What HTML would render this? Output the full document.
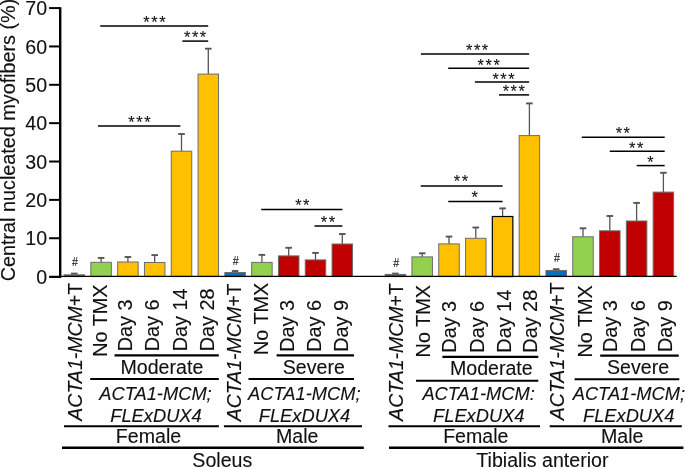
<!DOCTYPE html>
<html><head><meta charset="utf-8"><title>Central nucleated myofibers</title>
<style>
html,body{margin:0;padding:0;background:#fff;}
body{width:685px;height:468px;overflow:hidden;}
svg{display:block;will-change:transform;}
svg text{font-family:"Liberation Sans",sans-serif;fill:#111;stroke:#111;stroke-width:0.12px;}
</style></head>
<body>
<svg width="685" height="468" viewBox="0 0 685 468">
<rect x="0" y="0" width="685" height="468" fill="#ffffff"/>
<line x1="74.30" y1="274.80" x2="74.30" y2="273.60" stroke="#555555" stroke-width="1.3"/>
<line x1="71.00" y1="273.60" x2="77.60" y2="273.60" stroke="#555555" stroke-width="1.9"/>
<rect x="64.05" y="274.80" width="20.50" height="1.80" fill="#6e6e6e" stroke="#6c6c6c" stroke-width="1.0"/>
<line x1="101.10" y1="262.30" x2="101.10" y2="257.90" stroke="#555555" stroke-width="1.3"/>
<line x1="97.80" y1="257.90" x2="104.40" y2="257.90" stroke="#555555" stroke-width="1.9"/>
<rect x="90.85" y="262.30" width="20.50" height="14.30" fill="#92D050" stroke="#6c6c6c" stroke-width="1.0"/>
<line x1="127.90" y1="262.00" x2="127.90" y2="257.00" stroke="#555555" stroke-width="1.3"/>
<line x1="124.60" y1="257.00" x2="131.20" y2="257.00" stroke="#555555" stroke-width="1.9"/>
<rect x="117.65" y="262.00" width="20.50" height="14.60" fill="#FFC000" stroke="#6c6c6c" stroke-width="1.0"/>
<line x1="154.70" y1="262.50" x2="154.70" y2="255.10" stroke="#555555" stroke-width="1.3"/>
<line x1="151.40" y1="255.10" x2="158.00" y2="255.10" stroke="#555555" stroke-width="1.9"/>
<rect x="144.45" y="262.50" width="20.50" height="14.10" fill="#FFC000" stroke="#6c6c6c" stroke-width="1.0"/>
<line x1="181.50" y1="151.20" x2="181.50" y2="134.00" stroke="#555555" stroke-width="1.3"/>
<line x1="178.20" y1="134.00" x2="184.80" y2="134.00" stroke="#555555" stroke-width="1.9"/>
<rect x="171.25" y="151.20" width="20.50" height="125.40" fill="#FFC000" stroke="#6c6c6c" stroke-width="1.0"/>
<line x1="208.30" y1="74.10" x2="208.30" y2="48.70" stroke="#555555" stroke-width="1.3"/>
<line x1="205.00" y1="48.70" x2="211.60" y2="48.70" stroke="#555555" stroke-width="1.9"/>
<rect x="198.05" y="74.10" width="20.50" height="202.50" fill="#FFC000" stroke="#6c6c6c" stroke-width="1.0"/>
<line x1="235.10" y1="272.50" x2="235.10" y2="271.00" stroke="#555555" stroke-width="1.3"/>
<line x1="231.80" y1="271.00" x2="238.40" y2="271.00" stroke="#555555" stroke-width="1.9"/>
<rect x="224.85" y="272.50" width="20.50" height="4.10" fill="#0070C0" stroke="#6c6c6c" stroke-width="1.0"/>
<line x1="261.90" y1="262.40" x2="261.90" y2="254.90" stroke="#555555" stroke-width="1.3"/>
<line x1="258.60" y1="254.90" x2="265.20" y2="254.90" stroke="#555555" stroke-width="1.9"/>
<rect x="251.65" y="262.40" width="20.50" height="14.20" fill="#92D050" stroke="#6c6c6c" stroke-width="1.0"/>
<line x1="288.70" y1="255.90" x2="288.70" y2="247.80" stroke="#555555" stroke-width="1.3"/>
<line x1="285.40" y1="247.80" x2="292.00" y2="247.80" stroke="#555555" stroke-width="1.9"/>
<rect x="278.45" y="255.90" width="20.50" height="20.70" fill="#C00000" stroke="#6c6c6c" stroke-width="1.0"/>
<line x1="315.50" y1="259.90" x2="315.50" y2="252.90" stroke="#555555" stroke-width="1.3"/>
<line x1="312.20" y1="252.90" x2="318.80" y2="252.90" stroke="#555555" stroke-width="1.9"/>
<rect x="305.25" y="259.90" width="20.50" height="16.70" fill="#C00000" stroke="#6c6c6c" stroke-width="1.0"/>
<line x1="342.30" y1="244.00" x2="342.30" y2="234.00" stroke="#555555" stroke-width="1.3"/>
<line x1="339.00" y1="234.00" x2="345.60" y2="234.00" stroke="#555555" stroke-width="1.9"/>
<rect x="332.05" y="244.00" width="20.50" height="32.60" fill="#C00000" stroke="#6c6c6c" stroke-width="1.0"/>
<line x1="395.40" y1="274.40" x2="395.40" y2="273.60" stroke="#555555" stroke-width="1.3"/>
<line x1="392.10" y1="273.60" x2="398.70" y2="273.60" stroke="#555555" stroke-width="1.9"/>
<rect x="385.15" y="274.40" width="20.50" height="2.20" fill="#0070C0" stroke="#6c6c6c" stroke-width="1.0"/>
<line x1="422.20" y1="256.90" x2="422.20" y2="253.30" stroke="#555555" stroke-width="1.3"/>
<line x1="418.90" y1="253.30" x2="425.50" y2="253.30" stroke="#555555" stroke-width="1.9"/>
<rect x="411.95" y="256.90" width="20.50" height="19.70" fill="#92D050" stroke="#6c6c6c" stroke-width="1.0"/>
<line x1="449.00" y1="243.90" x2="449.00" y2="236.60" stroke="#555555" stroke-width="1.3"/>
<line x1="445.70" y1="236.60" x2="452.30" y2="236.60" stroke="#555555" stroke-width="1.9"/>
<rect x="438.75" y="243.90" width="20.50" height="32.70" fill="#FFC000" stroke="#6c6c6c" stroke-width="1.0"/>
<line x1="475.80" y1="238.30" x2="475.80" y2="227.50" stroke="#555555" stroke-width="1.3"/>
<line x1="472.50" y1="227.50" x2="479.10" y2="227.50" stroke="#555555" stroke-width="1.9"/>
<rect x="465.55" y="238.30" width="20.50" height="38.30" fill="#FFC000" stroke="#6c6c6c" stroke-width="1.0"/>
<line x1="502.60" y1="216.50" x2="502.60" y2="208.40" stroke="#555555" stroke-width="1.3"/>
<line x1="499.30" y1="208.40" x2="505.90" y2="208.40" stroke="#555555" stroke-width="1.9"/>
<rect x="492.35" y="216.50" width="20.50" height="60.10" fill="#FFC000" stroke="#000" stroke-width="1.2"/>
<line x1="529.40" y1="135.60" x2="529.40" y2="103.40" stroke="#555555" stroke-width="1.3"/>
<line x1="526.10" y1="103.40" x2="532.70" y2="103.40" stroke="#555555" stroke-width="1.9"/>
<rect x="519.15" y="135.60" width="20.50" height="141.00" fill="#FFC000" stroke="#6c6c6c" stroke-width="1.0"/>
<line x1="556.20" y1="270.50" x2="556.20" y2="269.20" stroke="#555555" stroke-width="1.3"/>
<line x1="552.90" y1="269.20" x2="559.50" y2="269.20" stroke="#555555" stroke-width="1.9"/>
<rect x="545.95" y="270.50" width="20.50" height="6.10" fill="#0070C0" stroke="#6c6c6c" stroke-width="1.0"/>
<line x1="583.00" y1="236.80" x2="583.00" y2="228.30" stroke="#555555" stroke-width="1.3"/>
<line x1="579.70" y1="228.30" x2="586.30" y2="228.30" stroke="#555555" stroke-width="1.9"/>
<rect x="572.75" y="236.80" width="20.50" height="39.80" fill="#92D050" stroke="#6c6c6c" stroke-width="1.0"/>
<line x1="609.80" y1="230.80" x2="609.80" y2="216.00" stroke="#555555" stroke-width="1.3"/>
<line x1="606.50" y1="216.00" x2="613.10" y2="216.00" stroke="#555555" stroke-width="1.9"/>
<rect x="599.55" y="230.80" width="20.50" height="45.80" fill="#C00000" stroke="#6c6c6c" stroke-width="1.0"/>
<line x1="636.60" y1="221.00" x2="636.60" y2="202.90" stroke="#555555" stroke-width="1.3"/>
<line x1="633.30" y1="202.90" x2="639.90" y2="202.90" stroke="#555555" stroke-width="1.9"/>
<rect x="626.35" y="221.00" width="20.50" height="55.60" fill="#C00000" stroke="#6c6c6c" stroke-width="1.0"/>
<line x1="663.40" y1="192.10" x2="663.40" y2="172.80" stroke="#555555" stroke-width="1.3"/>
<line x1="660.10" y1="172.80" x2="666.70" y2="172.80" stroke="#555555" stroke-width="1.9"/>
<rect x="653.15" y="192.10" width="20.50" height="84.50" fill="#C00000" stroke="#6c6c6c" stroke-width="1.0"/>
<line x1="60.20" y1="7.20" x2="60.20" y2="277.95" stroke="#000" stroke-width="2.4"/>
<line x1="60.00" y1="276.40" x2="676.80" y2="276.40" stroke="#000" stroke-width="1.25"/>
<line x1="49.10" y1="276.85" x2="60.20" y2="276.85" stroke="#000" stroke-width="2.2"/>
<line x1="49.10" y1="238.24" x2="60.00" y2="238.24" stroke="#000" stroke-width="2.0"/>
<line x1="49.10" y1="199.88" x2="60.00" y2="199.88" stroke="#000" stroke-width="2.0"/>
<line x1="49.10" y1="161.52" x2="60.00" y2="161.52" stroke="#000" stroke-width="2.0"/>
<line x1="49.10" y1="123.16" x2="60.00" y2="123.16" stroke="#000" stroke-width="2.0"/>
<line x1="49.10" y1="84.80" x2="60.00" y2="84.80" stroke="#000" stroke-width="2.0"/>
<line x1="49.10" y1="46.44" x2="60.00" y2="46.44" stroke="#000" stroke-width="2.0"/>
<line x1="49.10" y1="8.08" x2="60.00" y2="8.08" stroke="#000" stroke-width="2.0"/>
<text x="47.10" y="283.80" font-size="19.6" text-anchor="end">0</text>
<text x="47.10" y="245.44" font-size="19.6" text-anchor="end">10</text>
<text x="47.10" y="207.08" font-size="19.6" text-anchor="end">20</text>
<text x="47.10" y="168.72" font-size="19.6" text-anchor="end">30</text>
<text x="47.10" y="130.36" font-size="19.6" text-anchor="end">40</text>
<text x="47.10" y="92.00" font-size="19.6" text-anchor="end">50</text>
<text x="47.10" y="53.64" font-size="19.6" text-anchor="end">60</text>
<text x="47.10" y="15.28" font-size="19.6" text-anchor="end">70</text>
<text transform="translate(14.90,140.00) rotate(-90)" font-size="19.8" text-anchor="middle">Central nucleated myofibers (%)</text>
<line x1="100.20" y1="25.90" x2="208.20" y2="25.90" stroke="#000" stroke-width="1.5"/>
<text x="155.20" y="28.20" font-size="16.4" text-anchor="middle" stroke-width="0.15" letter-spacing="1.55">***</text>
<line x1="182.40" y1="41.10" x2="208.20" y2="41.10" stroke="#000" stroke-width="1.5"/>
<text x="195.90" y="43.30" font-size="16.4" text-anchor="middle" stroke-width="0.15" letter-spacing="1.55">***</text>
<line x1="98.00" y1="125.90" x2="180.40" y2="125.90" stroke="#000" stroke-width="1.5"/>
<text x="140.20" y="127.60" font-size="16.4" text-anchor="middle" stroke-width="0.15" letter-spacing="1.55">***</text>
<line x1="261.20" y1="209.60" x2="342.40" y2="209.60" stroke="#000" stroke-width="1.5"/>
<text x="303.10" y="211.30" font-size="16.4" text-anchor="middle" stroke-width="0.15" letter-spacing="1.55">**</text>
<line x1="314.50" y1="226.00" x2="342.40" y2="226.00" stroke="#000" stroke-width="1.5"/>
<text x="328.80" y="227.70" font-size="16.4" text-anchor="middle" stroke-width="0.15" letter-spacing="1.55">**</text>
<line x1="420.90" y1="53.90" x2="529.10" y2="53.90" stroke="#000" stroke-width="1.5"/>
<text x="477.90" y="55.60" font-size="16.4" text-anchor="middle" stroke-width="0.15" letter-spacing="1.55">***</text>
<line x1="448.20" y1="68.30" x2="529.10" y2="68.30" stroke="#000" stroke-width="1.5"/>
<text x="489.50" y="70.70" font-size="16.4" text-anchor="middle" stroke-width="0.15" letter-spacing="1.55">***</text>
<line x1="474.90" y1="82.00" x2="529.10" y2="82.00" stroke="#000" stroke-width="1.5"/>
<text x="504.30" y="84.90" font-size="16.4" text-anchor="middle" stroke-width="0.15" letter-spacing="1.55">***</text>
<line x1="499.00" y1="94.90" x2="529.10" y2="94.90" stroke="#000" stroke-width="1.5"/>
<text x="514.60" y="96.60" font-size="16.4" text-anchor="middle" stroke-width="0.15" letter-spacing="1.55">***</text>
<line x1="420.70" y1="186.10" x2="502.60" y2="186.10" stroke="#000" stroke-width="1.5"/>
<text x="461.70" y="186.90" font-size="16.4" text-anchor="middle" stroke-width="0.15" letter-spacing="1.55">**</text>
<line x1="448.30" y1="201.50" x2="502.60" y2="201.50" stroke="#000" stroke-width="1.5"/>
<text x="475.50" y="203.20" font-size="16.4" text-anchor="middle" stroke-width="0.15" letter-spacing="1.55">*</text>
<line x1="581.80" y1="137.20" x2="664.70" y2="137.20" stroke="#000" stroke-width="1.5"/>
<text x="623.60" y="139.20" font-size="16.4" text-anchor="middle" stroke-width="0.15" letter-spacing="1.55">**</text>
<line x1="609.80" y1="151.30" x2="664.70" y2="151.30" stroke="#000" stroke-width="1.5"/>
<text x="636.90" y="153.70" font-size="16.4" text-anchor="middle" stroke-width="0.15" letter-spacing="1.55">**</text>
<line x1="636.70" y1="165.60" x2="664.70" y2="165.60" stroke="#000" stroke-width="1.5"/>
<text x="651.20" y="167.70" font-size="16.4" text-anchor="middle" stroke-width="0.15" letter-spacing="1.55">*</text>
<text transform="translate(75.00,266.20) scale(0.82,1)" font-size="13" text-anchor="middle" stroke-width="0.45">#</text>
<text transform="translate(235.70,264.60) scale(0.82,1)" font-size="13" text-anchor="middle" stroke-width="0.45">#</text>
<text transform="translate(396.20,266.50) scale(0.82,1)" font-size="13" text-anchor="middle" stroke-width="0.45">#</text>
<text transform="translate(557.00,261.90) scale(0.82,1)" font-size="13" text-anchor="middle" stroke-width="0.45">#</text>
<text transform="translate(81.90,282.90) rotate(-90)" font-size="19.5" text-anchor="end"><tspan font-style="italic">ACTA1-MCM</tspan>+T</text>
<text transform="translate(107.10,284.40) rotate(-90)" font-size="19.85" text-anchor="end">No TMX</text>
<text transform="translate(132.00,351.30) rotate(-90)" font-size="19.85" text-anchor="start">Day 3</text>
<text transform="translate(158.80,351.30) rotate(-90)" font-size="19.85" text-anchor="start">Day 6</text>
<text transform="translate(186.80,351.30) rotate(-90)" font-size="19.85" text-anchor="start">Day 14</text>
<text transform="translate(213.90,351.30) rotate(-90)" font-size="19.85" text-anchor="start">Day 28</text>
<line x1="114.50" y1="355.30" x2="218.80" y2="355.30" stroke="#000" stroke-width="2.3"/>
<text x="161.90" y="374.10" font-size="19.6" text-anchor="middle">Moderate</text>
<line x1="90.20" y1="379.00" x2="218.80" y2="379.00" stroke="#000" stroke-width="2.1"/>
<text x="155.50" y="400.00" font-size="18.3" text-anchor="middle" font-style="italic">ACTA1-MCM;</text>
<text x="156.00" y="422.00" font-size="18.3" text-anchor="middle" font-style="italic">FLExDUX4</text>
<line x1="64.00" y1="426.30" x2="218.90" y2="426.30" stroke="#000" stroke-width="2.0"/>
<text x="148.50" y="443.00" font-size="19.6" text-anchor="middle">Female</text>
<text transform="translate(240.50,283.50) rotate(-90)" font-size="19.5" text-anchor="end"><tspan font-style="italic">ACTA1-MCM</tspan>+T</text>
<text transform="translate(268.40,282.70) rotate(-90)" font-size="19.85" text-anchor="end">No TMX</text>
<text transform="translate(293.50,351.80) rotate(-90)" font-size="19.85" text-anchor="start">Day 3</text>
<text transform="translate(320.90,351.80) rotate(-90)" font-size="19.85" text-anchor="start">Day 6</text>
<text transform="translate(348.30,351.80) rotate(-90)" font-size="19.85" text-anchor="start">Day 9</text>
<line x1="276.60" y1="355.30" x2="354.00" y2="355.30" stroke="#000" stroke-width="2.3"/>
<text x="313.80" y="374.10" font-size="19.6" text-anchor="middle">Severe</text>
<line x1="248.50" y1="379.00" x2="354.00" y2="379.00" stroke="#000" stroke-width="2.1"/>
<text x="304.30" y="400.00" font-size="18.3" text-anchor="middle" font-style="italic">ACTA1-MCM;</text>
<text x="304.50" y="422.00" font-size="18.3" text-anchor="middle" font-style="italic">FLExDUX4</text>
<line x1="223.90" y1="426.30" x2="362.00" y2="426.30" stroke="#000" stroke-width="2.0"/>
<text x="297.20" y="443.00" font-size="19.6" text-anchor="middle">Male</text>
<text transform="translate(402.50,283.10) rotate(-90)" font-size="19.5" text-anchor="end"><tspan font-style="italic">ACTA1-MCM</tspan>+T</text>
<text transform="translate(430.10,285.00) rotate(-90)" font-size="19.85" text-anchor="end">No TMX</text>
<text transform="translate(456.30,352.70) rotate(-90)" font-size="19.85" text-anchor="start">Day 3</text>
<text transform="translate(483.90,352.70) rotate(-90)" font-size="19.85" text-anchor="start">Day 6</text>
<text transform="translate(510.80,352.70) rotate(-90)" font-size="19.85" text-anchor="start">Day 14</text>
<text transform="translate(536.90,352.70) rotate(-90)" font-size="19.85" text-anchor="start">Day 28</text>
<line x1="442.40" y1="356.80" x2="538.30" y2="356.80" stroke="#000" stroke-width="2.3"/>
<text x="491.30" y="375.30" font-size="19.6" text-anchor="middle">Moderate</text>
<line x1="416.00" y1="380.70" x2="538.30" y2="380.70" stroke="#000" stroke-width="2.1"/>
<text x="478.60" y="400.40" font-size="18.3" text-anchor="middle" font-style="italic">ACTA1-MCM:</text>
<text x="478.80" y="422.40" font-size="18.3" text-anchor="middle" font-style="italic">FLExDUX4</text>
<line x1="388.50" y1="426.30" x2="540.00" y2="426.30" stroke="#000" stroke-width="2.0"/>
<text x="475.80" y="443.00" font-size="19.6" text-anchor="middle">Female</text>
<text transform="translate(563.80,282.40) rotate(-90)" font-size="19.5" text-anchor="end"><tspan font-style="italic">ACTA1-MCM</tspan>+T</text>
<text transform="translate(591.80,285.20) rotate(-90)" font-size="19.85" text-anchor="end">No TMX</text>
<text transform="translate(616.80,352.00) rotate(-90)" font-size="19.85" text-anchor="start">Day 3</text>
<text transform="translate(644.90,352.00) rotate(-90)" font-size="19.85" text-anchor="start">Day 6</text>
<text transform="translate(671.80,352.00) rotate(-90)" font-size="19.85" text-anchor="start">Day 9</text>
<line x1="600.20" y1="355.70" x2="678.80" y2="355.70" stroke="#000" stroke-width="2.3"/>
<text x="638.10" y="374.10" font-size="19.6" text-anchor="middle">Severe</text>
<line x1="574.60" y1="379.30" x2="679.30" y2="379.30" stroke="#000" stroke-width="2.1"/>
<text x="628.90" y="400.00" font-size="18.3" text-anchor="middle" font-style="italic">ACTA1-MCM;</text>
<text x="628.70" y="422.00" font-size="18.3" text-anchor="middle" font-style="italic">FLExDUX4</text>
<line x1="549.70" y1="426.30" x2="681.80" y2="426.30" stroke="#000" stroke-width="2.0"/>
<text x="622.30" y="443.00" font-size="19.6" text-anchor="middle">Male</text>
<line x1="62.00" y1="447.70" x2="363.80" y2="447.70" stroke="#000" stroke-width="2.4"/>
<line x1="389.00" y1="447.70" x2="683.40" y2="447.70" stroke="#000" stroke-width="2.4"/>
<text x="222.30" y="466.80" font-size="19.6" text-anchor="middle">Soleus</text>
<text x="542.40" y="466.80" font-size="19.6" text-anchor="middle">Tibialis anterior</text>
</svg>
</body></html>
